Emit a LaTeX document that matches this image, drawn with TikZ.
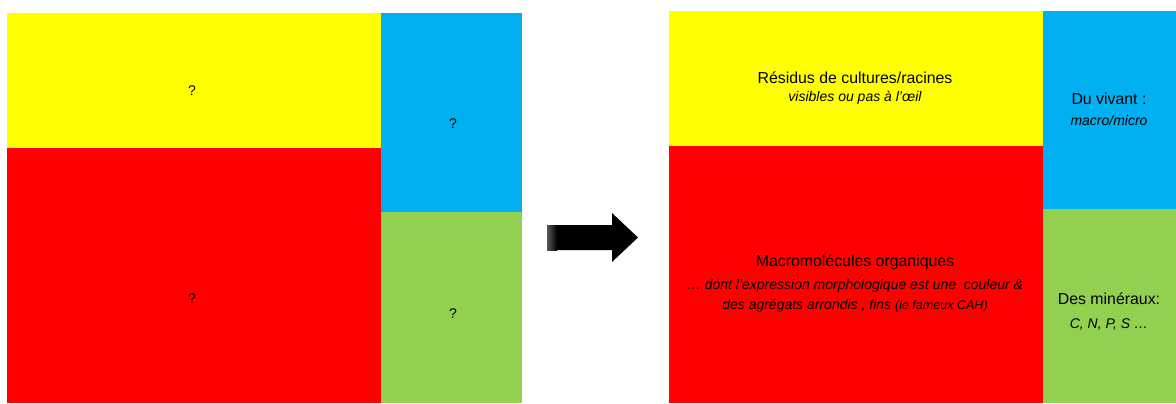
\documentclass[tikz,border=0pt]{standalone}
\usepackage{fontspec}
\setmainfont{Liberation Sans}
\usetikzlibrary{positioning}
\definecolor{soilyellow}{RGB}{255,255,0}
\definecolor{soilred}{RGB}{255,0,0}
\definecolor{soilblue}{RGB}{0,176,240}
\definecolor{soilgreen}{RGB}{146,208,80}

\begin{document}
\begin{tikzpicture}[
  x=0.75pt, y=-0.75pt,
  quest/.style={anchor=base, inner sep=0pt, font=\fontsize{10.5}{12}\selectfont},
  title/.style={anchor=base, inner sep=0pt, font=\fontsize{11.9}{14}\selectfont},
  sub/.style={anchor=base, inner sep=0pt, font=\fontsize{10.5}{12}\selectfont\itshape}
]
\useasboundingbox (0,0) rectangle (1176,403);
% left panel: the unknown soil
\fill[soilyellow] (7,13) rectangle (380.5,148);
\fill[soilred] (7,148) rectangle (380.5,403);
\fill[soilblue] (380.5,13) rectangle (522,212);
\fill[soilgreen] (380.5,212) rectangle (522,403);
\node[quest] (qyel) at (192,95) {?};
\node[quest] (qred) at (192,303) {?};
\node[quest] (qblu) at (453,128) {?};
\node[quest] (qgrn) at (453,318) {?};
% the big arrow
\fill[black]
  (547,225) -- (612,225) -- (612,213) -- (638,237.5) -- (612,262) -- (612,250) -- (547,250) -- cycle;
\fill[left color=black!65, right color=black] (547,225) rectangle (557,250);
% right panel: what it is made of
\fill[soilyellow] (669,11) rectangle (1042.5,146);
\fill[soilred] (669,146) rectangle (1042.5,403);
\fill[soilblue] (1042.5,11) rectangle (1176,209);
\fill[soilgreen] (1042.5,209) rectangle (1176,403);
\node[title] (resid) at (855,84) {Résidus de cultures/racines};
\node[sub] (residsub) at (855,101) {visibles ou pas à l’œil};
\node[title] (macro) at (855,266) {Macromolécules organiques};
\node[sub] (macrosub) at (855,289) {… dont l’expression morphologique est une\ \ couleur \&};
\node[sub] (macrosubb) at (855,309) {des agrégats arrondis , fins {\fontsize{9.4}{11}\selectfont(le fameux CAH)}};
\node[title] (vivant) at (1109,104) {Du vivant :};
\node[sub] (vivantsub) at (1109,125) {macro/micro};
\node[title] (miner) at (1109,304) {Des minéraux:};
\node[sub] (minersub) at (1109,328) {C, N, P, S …};
\end{tikzpicture}
\end{document}
